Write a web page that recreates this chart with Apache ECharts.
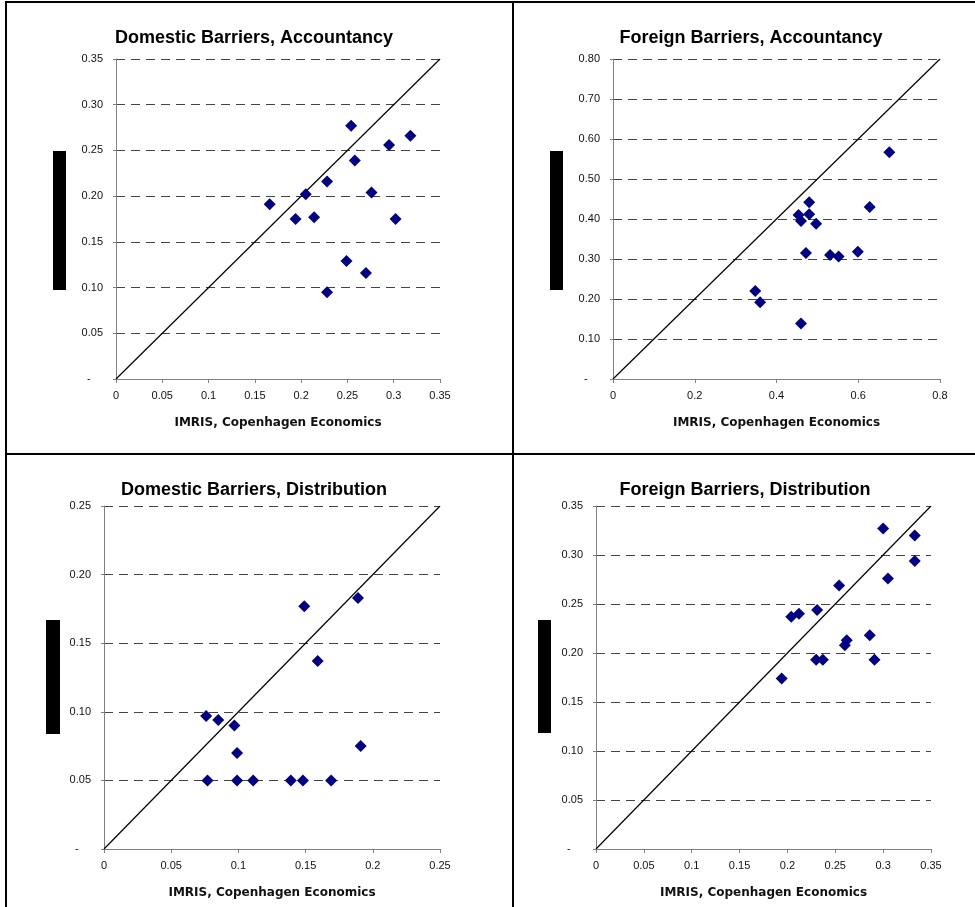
<!DOCTYPE html>
<html>
<head>
<meta charset="utf-8">
<script src="https://cdn.jsdelivr.net/npm/echarts@6/dist/echarts.min.js"></script>
<style>
  html, body { margin: 0; padding: 0; background: #fff; }
  #chart { width: 975px; height: 907px; }
</style>
</head>
<body>
<div id="chart"></div>
<script>
// panel titles
const titles = [
  'Domestic Barriers, Accountancy',
  'Foreign Barriers, Accountancy',
  'Domestic Barriers, Distribution',
  'Foreign Barriers, Distribution'
];
const xName = 'IMRIS, Copenhagen Economics';

// axis ranges / tick steps
const axisMax = [0.35, 0.8, 0.25, 0.35];
const xStep = [0.05, 0.2, 0.05, 0.05];
const yStep = [0.05, 0.1, 0.05, 0.05];

// Domestic barriers, accountancy
const accDomX = [0.166, 0.194, 0.205, 0.214, 0.228, 0.228, 0.249, 0.254, 0.258, 0.270, 0.276, 0.295, 0.302, 0.318];
const accDomY = [0.191, 0.175, 0.202, 0.177, 0.216, 0.095, 0.129, 0.277, 0.239, 0.116, 0.204, 0.256, 0.175, 0.266];

// Foreign barriers, accountancy
const accForX = [0.348, 0.360, 0.454, 0.460, 0.460, 0.472, 0.480, 0.480, 0.497, 0.531, 0.552, 0.599, 0.628, 0.676];
const accForY = [0.220, 0.192, 0.410, 0.395, 0.139, 0.315, 0.442, 0.412, 0.388, 0.310, 0.306, 0.318, 0.430, 0.567];

// Domestic barriers, distribution
const disDomX = [0.076, 0.077, 0.085, 0.097, 0.099, 0.099, 0.111, 0.139, 0.148, 0.149, 0.159, 0.169, 0.189, 0.191];
const disDomY = [0.097, 0.050, 0.094, 0.090, 0.070, 0.050, 0.050, 0.050, 0.050, 0.177, 0.137, 0.050, 0.183, 0.075];

// Foreign barriers, distribution
const disForX = [0.194, 0.204, 0.212, 0.230, 0.231, 0.237, 0.254, 0.260, 0.262, 0.286, 0.291, 0.300, 0.305, 0.333, 0.333];
const disForY = [0.174, 0.237, 0.240, 0.193, 0.244, 0.193, 0.269, 0.208, 0.213, 0.218, 0.193, 0.327, 0.276, 0.320, 0.294];

const panelX = [accDomX, accForX, disDomX, disForX];
const panelY = [accDomY, accForY, disDomY, disForY];

// layout
const grids = [
  {left: 116, top: 59, width: 324, height: 320},
  {left: 613, top: 59, width: 327, height: 320},
  {left: 104, top: 506, width: 336, height: 343},
  {left: 596, top: 506, width: 335, height: 343}
];
const titlePos = [[249, 24], [746, 24], [249, 476], [740, 476]];
const blocks = [[53, 151, 13, 139], [550, 151, 13, 139], [46, 620, 14, 114], [538, 620, 13, 113]];

const axisGray = '#808080';
const font = 'Liberation Sans, Arial, sans-serif';

function fmtX(v) {
  return String(parseFloat(v.toFixed(2)));
}
function fmtY(v) {
  return v === 0 ? '-    ' : v.toFixed(2);
}

const xAxes = [], yAxes = [], series = [], titleOpts = [];
for (let i = 0; i < 4; i++) {
  xAxes.push({
    type: 'value', gridIndex: i, min: 0, max: axisMax[i], interval: xStep[i],
    name: xName, nameLocation: 'middle', nameGap: 38,
    nameTextStyle: {fontFamily: 'DejaVu Sans', fontWeight: 'bold', fontSize: 12, color: '#111'},
    axisLine: {show: true, lineStyle: {color: axisGray, width: 1}},
    axisTick: {show: true, length: 4, lineStyle: {color: axisGray}},
    axisLabel: {formatter: fmtX, fontFamily: font, fontSize: 11, color: '#111', margin: 11},
    splitLine: {show: false}
  });
  yAxes.push({
    type: 'value', gridIndex: i, min: 0, max: axisMax[i], interval: yStep[i],
    axisLine: {show: true, lineStyle: {color: axisGray, width: 1}},
    axisTick: {show: true, length: 3, lineStyle: {color: axisGray}},
    axisLabel: {formatter: fmtY, fontFamily: font, fontSize: 11, color: '#111', margin: 13},
    splitLine: {show: true, lineStyle: {color: '#444', width: 1, type: [9, 6]}}
  });
  titleOpts.push({
    text: titles[i], left: titlePos[i][0], top: titlePos[i][1], textAlign: 'center',
    textStyle: {fontFamily: font, fontWeight: 'bold', fontSize: 18, color: '#000'}
  });
  const m = axisMax[i];
  series.push({
    type: 'line', xAxisIndex: i, yAxisIndex: i, data: [[0, 0], [m, m]],
    symbol: 'none', silent: true, lineStyle: {color: '#000', width: 1.2}, z: 2
  });
  series.push({
    type: 'scatter', xAxisIndex: i, yAxisIndex: i,
    data: panelX[i].map((x, k) => [x, panelY[i][k]]),
    symbol: 'diamond', symbolSize: [12, 12],
    itemStyle: {color: '#000080', opacity: 1}, z: 3
  });
}

// frame lines and the black blocks beside the y axes
const graphics = [
  {type: 'rect', shape: {x: 5, y: 1, width: 970, height: 2}, style: {fill: '#000'}},
  {type: 'rect', shape: {x: 5, y: 1, width: 2, height: 906}, style: {fill: '#000'}},
  {type: 'rect', shape: {x: 512, y: 1, width: 2, height: 906}, style: {fill: '#000'}},
  {type: 'rect', shape: {x: 5, y: 453, width: 970, height: 2}, style: {fill: '#000'}}
];
blocks.forEach(b => {
  graphics.push({type: 'rect', shape: {x: b[0], y: b[1], width: b[2], height: b[3]}, style: {fill: '#000'}});
});

const chart = echarts.init(document.getElementById('chart'), null, {renderer: 'canvas'});
chart.setOption({
  animation: false,
  backgroundColor: '#fff',
  title: titleOpts,
  grid: grids,
  xAxis: xAxes,
  yAxis: yAxes,
  series: series,
  graphic: graphics
});
</script>
</body>
</html>
